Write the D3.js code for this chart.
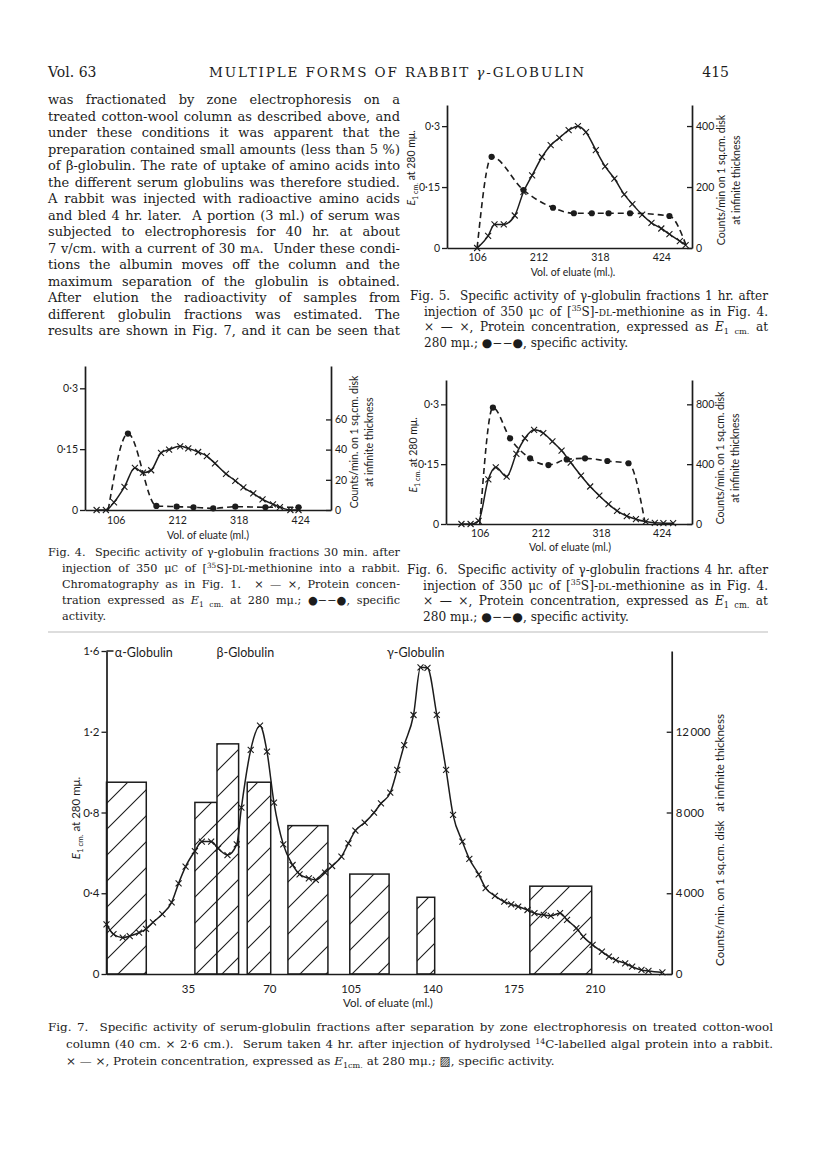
<!DOCTYPE html>
<html>
<head>
<meta charset="utf-8">
<script src="https://cdn.jsdelivr.net/npm/d3@7"></script>
<style>
  body { margin: 0; background: #fff; }
</style>
</head>
<body>
<svg id="page" width="816" height="1155"></svg>
<script>
// ---------- data ----------
const volTicks = [106, 212, 318, 424];
const fig7VolTicks = [35, 70, 105, 140, 175, 210];

// Fig. 4 (30 min)
const fig4ProteinVol = [73, 89, 103, 121, 139, 153, 167, 184, 198, 217, 231, 248, 263, 277, 296, 312, 326, 343, 359, 377, 389, 407, 421];
const fig4ProteinE = [0, 0, 0.019, 0.057, 0.104, 0.092, 0.098, 0.141, 0.149, 0.157, 0.152, 0.143, 0.133, 0.115, 0.089, 0.072, 0.056, 0.041, 0.026, 0.014, 0.007, 0, 0];
const fig4ActivityVol = [93, 127, 176, 211, 240, 274, 312, 364, 421];
const fig4ActivityCounts = [0, 50.6, 2.7, 2.2, 1.8, 1.1, 2.2, 1.8, 1.8];

// Fig. 5 (1 hr)
const fig5ProteinVol = [106, 125, 136, 152, 171, 186, 201, 218, 233, 248, 264, 280, 294, 311, 327, 343, 360, 374, 391, 407, 424, 438, 456, 466];
const fig5ProteinE = [0, 0.030, 0.058, 0.058, 0.080, 0.138, 0.179, 0.224, 0.253, 0.271, 0.290, 0.300, 0.285, 0.241, 0.201, 0.171, 0.132, 0.108, 0.082, 0.062, 0.048, 0.034, 0.017, 0.007];
const fig5ActivityVol = [106, 131, 186, 237, 273, 304, 333, 370, 438, 468];
const fig5ActivityCounts = [0, 299, 190, 132, 114, 114, 114, 114, 105, 3];

// Fig. 6 (4 hr)
const fig6ProteinVol = [74, 90, 104, 121, 134, 153, 170, 185, 201, 217, 233, 249, 265, 283, 299, 315, 331, 346, 363, 379, 396, 412, 427, 444];
const fig6ProteinE = [0, 0, 0.008, 0.112, 0.142, 0.119, 0.176, 0.215, 0.236, 0.228, 0.207, 0.184, 0.154, 0.121, 0.094, 0.071, 0.050, 0.033, 0.020, 0.012, 0.006, 0.003, 0.002, 0.002];
const fig6ActivityVol = [106, 129, 159, 194, 226, 258, 290, 329, 366, 395];
const fig6ActivityCounts = [0, 778, 573, 439, 394, 432, 439, 421, 406, 8];

// Fig. 7 (zone electrophoresis)
const fig7ProteinVol = [0, 3, 7, 10, 14, 17, 20, 24, 28, 31, 34, 38, 41, 45, 48, 52, 56, 58, 62, 66, 69, 72, 76, 80, 83, 87, 90, 94, 97, 101, 104, 107, 111, 115, 118, 122, 125, 128, 132, 135, 138, 142, 146, 149, 153, 156, 160, 163, 167, 171, 174, 177, 181, 184, 188, 191, 195, 198, 202, 205, 209, 213, 216, 219, 223, 226, 230, 233, 239];
const fig7ProteinE = [0.246, 0.197, 0.180, 0.188, 0.205, 0.223, 0.256, 0.297, 0.355, 0.449, 0.532, 0.609, 0.656, 0.656, 0.622, 0.589, 0.642, 0.824, 1.110, 1.230, 1.101, 0.849, 0.642, 0.540, 0.494, 0.474, 0.466, 0.502, 0.535, 0.581, 0.647, 0.710, 0.750, 0.799, 0.845, 0.898, 1.011, 1.134, 1.283, 1.519, 1.516, 1.284, 1.011, 0.788, 0.656, 0.570, 0.494, 0.425, 0.387, 0.358, 0.345, 0.334, 0.317, 0.301, 0.293, 0.288, 0.301, 0.268, 0.227, 0.185, 0.144, 0.111, 0.086, 0.069, 0.053, 0.036, 0.020, 0.015, 0.008];
const fig7BarStart = [0, 38, 47.5, 60.5, 78, 104.6, 133.5, 182];
const fig7BarEnd = [17.1, 47.5, 56.8, 70.6, 95.2, 121.5, 141.1, 208.6];
const fig7BarCounts = [9500, 8500, 11400, 9500, 7350, 4950, 3800, 4350];
const globulinNames = ['α-Globulin', 'β-Globulin', 'γ-Globulin'];
const globulinVol = [3.6, 47.3, 120.6];

// ---------- page text ----------
const bodyLines = [
  'was fractionated by zone electrophoresis on a',
  'treated cotton-wool column as described above, and',
  'under these conditions it was apparent that the',
  'preparation contained small amounts (less than 5 %)',
  'of β-globulin. The rate of uptake of amino acids into',
  'the different serum globulins was therefore studied.',
  'A rabbit was injected with radioactive amino acids',
  'and bled 4 hr. later.  A portion (3 ml.) of serum was',
  'subjected to electrophoresis for 40 hr. at about',
  '7 v/cm. with a current of 30 m~{A}.  Under these condi-',
  'tions the albumin moves off the column and the',
  'maximum separation of the globulin is obtained.',
  'After elution the radioactivity of samples from',
  'different globulin fractions was estimated. The',
  'results are shown in Fig. 7, and it can be seen that'
];
const fig4Caption = [
  'Fig. 4.  Specific activity of γ-globulin fractions 30 min. after',
  'injection of 350 μ~{C} of [^{35}S]-~{DL}-methionine into a rabbit.',
  'Chromatography as in Fig. 1.  × — ×, Protein concen-',
  'tration expressed as *E*_{1 cm.} at 280 mμ.; ●−−●, specific',
  'activity.'
];
const fig5Caption = [
  'Fig. 5.  Specific activity of γ-globulin fractions 1 hr. after',
  'injection of 350 μ~{C} of [^{35}S]-~{DL}-methionine as in Fig. 4.',
  '× — ×, Protein concentration, expressed as *E*_{1 cm.} at',
  '280 mμ.; ●−−●, specific activity.'
];
const fig6Caption = [
  'Fig. 6.  Specific activity of γ-globulin fractions 4 hr. after',
  'injection of 350 μ~{C} of [^{35}S]-~{DL}-methionine as in Fig. 4.',
  '× — ×, Protein concentration, expressed as *E*_{1 cm.} at',
  '280 mμ.; ●−−●, specific activity.'
];
const fig7Caption = [
  'Fig. 7.  Specific activity of serum-globulin fractions after separation by zone electrophoresis on treated cotton-wool',
  'column (40 cm. × 2·6 cm.).  Serum taken 4 hr. after injection of hydrolysed ^{14}C-labelled algal protein into a rabbit.',
  '× — ×, Protein concentration, expressed as *E*_{1cm.} at 280 mμ.; ▨, specific activity.'
];

// ---------- helpers ----------
const INK = '#1c1c1c';
const SERIF = '"DejaVu Serif", "Liberation Serif", serif';
const SANS = 'Lato, "Open Sans", sans-serif';
const svg = d3.select('#page');

// tiny markup: _{sub} ^{sup} *italic* ~{small caps}
function rich(parent, str, o) {
  const t = parent.append('text')
    .attr('x', o.x || 0).attr('y', o.y || 0)
    .attr('font-family', o.family || SERIF)
    .attr('font-size', o.size)
    .attr('fill', INK)
    .attr('text-anchor', o.anchor || 'start')
    .style('white-space', 'pre');
  if (o.transform) t.attr('transform', o.transform);
  const parts = str.split(/(_\{[^}]*\}|\^\{[^}]*\}|\*[^*]+\*|~\{[^}]*\})/).filter(s => s.length);
  let shift = 0;
  parts.forEach(s => {
    let txt = s, dy = 0, fs = null, italic = false;
    if (s.startsWith('_{')) { txt = s.slice(2, -1); dy = o.size * 0.25; fs = 0.68; }
    else if (s.startsWith('^{')) { txt = s.slice(2, -1); dy = -o.size * 0.35; fs = 0.65; }
    else if (s.startsWith('~{')) { txt = s.slice(2, -1); fs = 0.75; }
    else if (s.length > 2 && s[0] === '*' && s[s.length - 1] === '*') { txt = s.slice(1, -1); italic = true; }
    const ts = t.append('tspan').text(txt);
    if (dy - shift !== 0) ts.attr('dy', dy - shift);
    shift = dy;
    if (fs) ts.attr('font-size', o.size * fs);
    if (italic) ts.attr('font-style', 'italic');
  });
  if (o.width) {
    const natural = t.node().getComputedTextLength();
    const gaps = (t.text().match(/ /g) || []).length;
    if (!o.letters && natural < o.width && gaps) t.attr('word-spacing', (o.width - natural) / gaps);
    else t.attr('textLength', o.width).attr('lengthAdjust', 'spacing');
  }
  return t;
}

// measure a line at a given size (removed right after)
function naturalWidth(str, size) {
  const t = rich(svg, str, { x: -999, y: -999, size });
  const w = t.node().getComputedTextLength();
  t.remove();
  return w;
}

// justified block: font size picked so the tightest line just fits
function paragraph(lines, o) {
  const x0 = i => i === 0 ? o.x : o.x + (o.indent || 0);
  const full = i => !(o.lastLoose && i === lines.length - 1);
  const ratio = d3.max(lines, (l, i) => full(i) ? naturalWidth(l, o.size) / (o.right - x0(i)) : 0);
  const size = Math.min(o.maxSize || 99, o.size / ratio * o.fill);
  lines.forEach((line, i) => {
    rich(svg, line, { x: x0(i), y: o.y + i * o.lead, size, width: full(i) ? o.right - x0(i) : null });
  });
}

const fmtDot = d => d === 0 ? '0' : String(d).replace('.', '·');
const fmtThousands = d => d === 0 ? '0' : d3.format(',')(d).replace(/,/g, '\u2009');

function styleAxis(sel, size) {
  sel.attr('font-family', SANS).attr('font-size', size);
  sel.selectAll('.domain').attr('stroke', INK).attr('stroke-width', 1.7);
  sel.selectAll('.tick line').attr('stroke', INK).attr('stroke-width', 1.3);
  sel.selectAll('.tick text').attr('fill', INK);
}

function drawPanel(c) {
  const g = svg.append('g');
  const x = d3.scaleLinear().domain(c.xDomain).range([c.left, c.right]);
  const yE = d3.scaleLinear().domain([0, c.eTop]).range([c.base, c.top]);
  const yC = d3.scaleLinear().domain([0, c.cTop]).range([c.base, c.top]);

  // hatched bars (Fig. 7 only)
  if (c.bars) {
    const bars = d3.range(c.bars.start.length).map(i => [c.bars.start[i], c.bars.end[i], c.bars.counts[i]]);
    g.selectAll('rect.bar').data(bars).join('rect')
      .attr('x', d => x(d[0])).attr('width', d => x(d[1]) - x(d[0]))
      .attr('y', d => yC(d[2])).attr('height', d => c.base - yC(d[2]))
      .attr('fill', 'url(#hatch)').attr('stroke', INK).attr('stroke-width', 1.5);
  }

  g.append('g').attr('transform', `translate(0,${c.base})`)
    .call(d3.axisBottom(x).tickValues(c.volTicks).tickSize(0).tickSizeOuter(0)
      .tickPadding(c.xPad).tickFormat(d3.format('d')))
    .call(styleAxis, c.fs);
  g.append('g').attr('transform', `translate(${c.left},0)`)
    .call(d3.axisLeft(yE).tickValues(c.eTicks).tickSize(5).tickSizeOuter(0)
      .tickPadding(2).tickFormat(fmtDot))
    .call(styleAxis, c.fs);
  g.append('g').attr('transform', `translate(${c.right},0)`)
    .call(d3.axisRight(yC).tickValues(c.cTicks).tickSize(-5).tickSizeOuter(0)
      .tickPadding(4).tickFormat(c.fmtC))
    .call(styleAxis, c.fs);
  if (c.topStub) {
    g.append('line').attr('x1', c.left).attr('x2', c.left + 7)
      .attr('y1', yE(c.eTop)).attr('y2', yE(c.eTop))
      .attr('stroke', INK).attr('stroke-width', 1.5);
  }

  // protein concentration: solid line with crosses
  const prot = d3.zip(c.protVol, c.protE);
  g.append('path').datum(prot)
    .attr('d', d3.line().x(d => x(d[0])).y(d => yE(d[1])).curve(d3.curveMonotoneX))
    .attr('fill', 'none').attr('stroke', INK).attr('stroke-width', 1.5);
  const s = c.crossSize;
  g.selectAll('path.cross').data(prot).join('path')
    .attr('d', d => `M${x(d[0]) - s},${yE(d[1]) - s}l${2 * s},${2 * s}m0,${-2 * s}l${-2 * s},${2 * s}`)
    .attr('stroke', INK).attr('stroke-width', 1.1);

  // specific activity: dashed line with dots
  if (c.actVol) {
    const act = d3.zip(c.actVol, c.actCounts);
    g.append('path').datum(act)
      .attr('d', d3.line().x(d => x(d[0])).y(d => yC(d[1])).curve(d3.curveMonotoneX))
      .attr('fill', 'none').attr('stroke', INK).attr('stroke-width', 1.6)
      .attr('stroke-dasharray', '6,4');
    g.selectAll('circle.dot').data(act.slice(c.dotFrom, c.dotTo)).join('circle')
      .attr('cx', d => x(d[0])).attr('cy', d => yC(d[1])).attr('r', 3.1).attr('fill', INK);
  }

  // axis titles
  rich(g, c.xTitle, { x: c.xTitleX, y: c.xTitleY, size: c.titleSize, family: SANS, anchor: 'middle' });
  if (c.yTitle) {
    rich(g, c.yTitle, { size: c.titleSize, family: SANS, anchor: 'middle',
      transform: `translate(${c.yTitleX},${c.yTitleY}) rotate(-90)` });
  }
  c.rTitle.forEach((line, i) => {
    rich(g, line, { size: c.titleSize, family: SANS, anchor: 'middle',
      transform: `translate(${c.rTitleX[i]},${c.rTitleY}) rotate(-90)` });
  });
  return { g, x, yE };
}

// ---------- hatch pattern ----------
const pat = svg.append('defs').append('pattern').attr('id', 'hatch')
  .attr('patternUnits', 'userSpaceOnUse').attr('width', 26).attr('height', 26);
pat.append('rect').attr('width', 26).attr('height', 26).attr('fill', '#fff');
pat.append('path').attr('d', 'M-6.5,6.5L6.5,-6.5M0,26L26,0M19.5,32.5L32.5,19.5')
  .attr('stroke', INK).attr('stroke-width', 1.1);

// ---------- header and running text ----------
rich(svg, 'Vol. 63', { x: 48, y: 77, size: 14 });
rich(svg, 'MULTIPLE FORMS OF RABBIT *γ*-GLOBULIN', { x: 209, y: 77, size: 13.5, width: 375, letters: true });
rich(svg, '415', { x: 729, y: 77, size: 14, anchor: 'end' });

paragraph(bodyLines, { x: 48, right: 400, y: 104, lead: 16.5, size: 13, fill: 0.99, maxSize: 13.2 });

// ---------- small figures ----------
const E_TITLE = '*E*_{1 cm.} at 280 mμ.';

drawPanel({
  left: 85, right: 331, top: 366, base: 510, xDomain: [53, 477], eTop: 0.355, cTop: 95.4,
  volTicks, eTicks: [0, 0.15, 0.3], cTicks: [0, 20, 40, 60], fmtC: d3.format('d'),
  xPad: 7, fs: 10.5, titleSize: 10.5, crossSize: 3,
  protVol: fig4ProteinVol, protE: fig4ProteinE,
  actVol: fig4ActivityVol, actCounts: fig4ActivityCounts, dotFrom: 1, dotTo: fig4ActivityVol.length,
  xTitle: 'Vol. of eluate (ml.)', xTitleX: 208, xTitleY: 539,
  rTitle: ['Counts/min. on 1 sq.cm. disk', 'at infinite thickness'], rTitleX: [358, 373], rTitleY: 442
});

drawPanel({
  left: 447, right: 692, top: 105, base: 248, xDomain: [54, 477], eTop: 0.352, cTop: 469,
  volTicks, eTicks: [0, 0.15, 0.3], cTicks: [0, 200, 400], fmtC: d3.format('d'),
  xPad: 6, fs: 10.5, titleSize: 10.5, crossSize: 3,
  protVol: fig5ProteinVol, protE: fig5ProteinE,
  actVol: fig5ActivityVol, actCounts: fig5ActivityCounts, dotFrom: 1, dotTo: fig5ActivityVol.length - 1,
  xTitle: 'Vol. of eluate (ml.).', xTitleX: 573, xTitleY: 276,
  yTitle: E_TITLE, yTitleX: 415, yTitleY: 168,
  rTitle: ['Counts/min on 1 sq.cm. disk', 'at infinite thickness'], rTitleX: [725, 740], rTitleY: 180
});

drawPanel({
  left: 446, right: 692, top: 380, base: 524, xDomain: [47, 477], eTop: 0.361, cTop: 962.6,
  volTicks, eTicks: [0, 0.15, 0.3], cTicks: [0, 400, 800], fmtC: d3.format('d'),
  xPad: 6, fs: 10.5, titleSize: 10.5, crossSize: 3,
  protVol: fig6ProteinVol, protE: fig6ProteinE,
  actVol: fig6ActivityVol, actCounts: fig6ActivityCounts, dotFrom: 1, dotTo: fig6ActivityVol.length - 1,
  xTitle: 'Vol. of eluate (ml.)', xTitleX: 570, xTitleY: 551,
  yTitle: E_TITLE, yTitleX: 417, yTitleY: 455,
  rTitle: ['Counts/min. on 1 sq.cm. disk', 'at infinite thickness'], rTitleX: [724, 739], rTitleY: 458
});

// ---------- Fig. 7 ----------
const f7 = drawPanel({
  left: 106.5, right: 671.7, top: 651, base: 974, xDomain: [0, 243], eTop: 1.6, cTop: 16000,
  volTicks: fig7VolTicks, eTicks: [0, 0.4, 0.8, 1.2, 1.6], cTicks: [0, 4000, 8000, 12000], fmtC: fmtThousands,
  xPad: 11, fs: 11.5, titleSize: 11.5, crossSize: 3, topStub: true,
  bars: { start: fig7BarStart, end: fig7BarEnd, counts: fig7BarCounts },
  protVol: fig7ProteinVol, protE: fig7ProteinE,
  xTitle: 'Vol. of eluate (ml.)', xTitleX: 388, xTitleY: 1007,
  yTitle: E_TITLE, yTitleX: 80, yTitleY: 818,
  rTitle: ['Counts/min. on 1 sq.cm. disk\u2002 at infinite thickness'], rTitleX: [724], rTitleY: 840
});
f7.g.selectAll('text.glob').data(d3.zip(globulinNames, globulinVol)).join('text')
  .attr('x', d => f7.x(d[1])).attr('y', 657)
  .attr('font-family', SANS).attr('font-size', 12.5).attr('fill', INK)
  .text(d => d[0]);

// ---------- captions ----------
paragraph(fig5Caption, { x: 410, right: 768, indent: 14, y: 300, lead: 15.5, size: 11, fill: 0.97, lastLoose: true });
paragraph(fig4Caption, { x: 48, right: 400, indent: 14, y: 556, lead: 16, size: 11, fill: 0.97, lastLoose: true });
paragraph(fig6Caption, { x: 407, right: 768, indent: 16, y: 574, lead: 15.5, size: 11, fill: 0.97, lastLoose: true });
svg.append('line').attr('x1', 48).attr('x2', 768).attr('y1', 632).attr('y2', 632)
  .attr('stroke', '#aaa').attr('stroke-width', 0.8);
paragraph(fig7Caption, { x: 48, right: 773, indent: 18, y: 1031, lead: 17, size: 11.5, fill: 0.98, lastLoose: true });
</script>
</body>
</html>
